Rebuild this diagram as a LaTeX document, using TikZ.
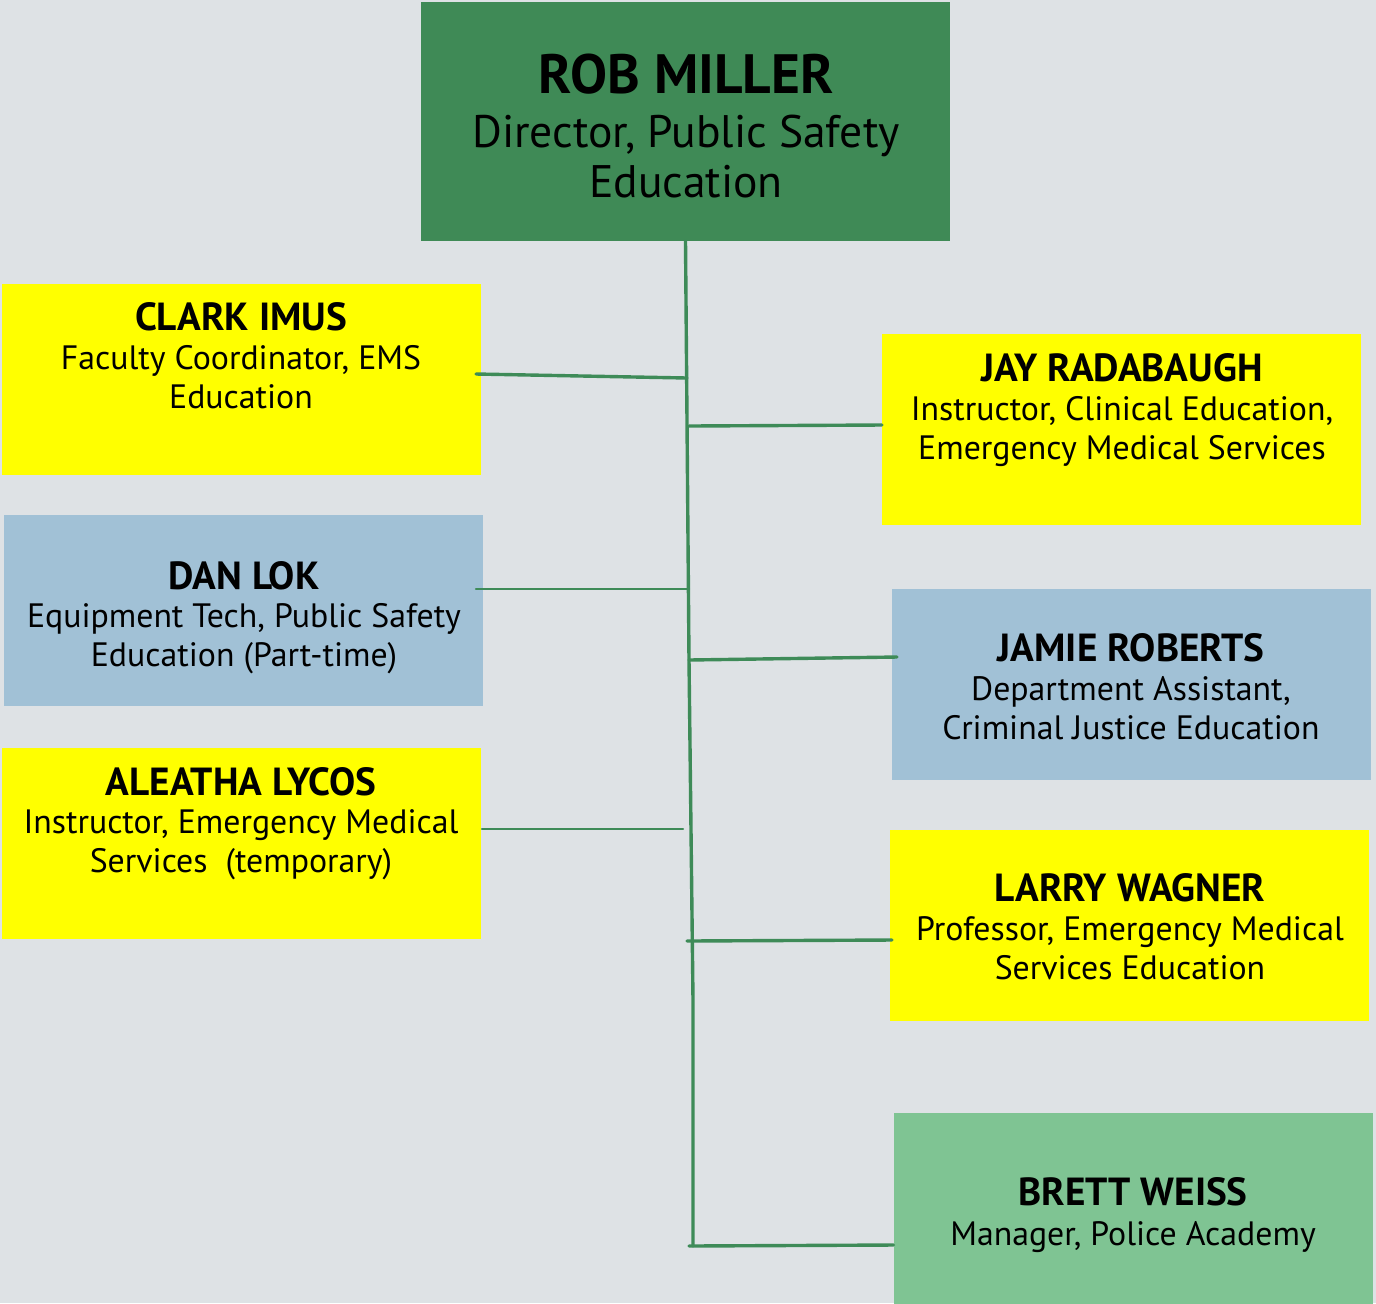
\documentclass[tikz,border=0pt]{standalone}
\usepackage{fontspec}
\setmainfont{PT Sans}
\usetikzlibrary{calc}
\definecolor{bgc}{HTML}{DEE2E5}
\definecolor{headc}{HTML}{3F8A56}
\definecolor{yelc}{HTML}{FFFF00}
\definecolor{bluec}{HTML}{A1C1D6}
\definecolor{mintc}{HTML}{7FC493}
\definecolor{linec}{HTML}{3E8B58}
\tikzset{
  card/.style={rectangle, inner sep=0pt, outer sep=0pt, draw=none,
    minimum width=239.5pt, minimum height=95.5pt},
  nametext/.style={anchor=base, inner sep=0pt, font=\bfseries\fontsize{19.6}{20}\selectfont},
  % anchored at the baseline of the last line
  roletext/.style={anchor=base, inner sep=0pt, align=center,
    font=\fontsize{16.9}{19.25}\selectfont},
  link/.style={draw=linec, line width=1.7pt, line cap=round},
  thinlink/.style={draw=linec, line width=1.1pt, line cap=round}
}
\begin{document}
\begin{tikzpicture}[x=0.5pt, y=-0.5pt]
  \fill[bgc] (0,0) rectangle (1376,1303);
  \useasboundingbox (0,0) rectangle (1376,1303);

  % boxes
  \node[card, fill=headc, minimum width=264.5pt, minimum height=119.5pt] (rob) at (685.5,121.5) {};
  \node[card, fill=yelc]  (clark)   at (241.5,379.5) {};
  \node[card, fill=bluec] (dan)     at (243.5,610.5) {};
  \node[card, fill=yelc]  (aleatha) at (241.5,843.5) {};
  \node[card, fill=yelc]  (jay)     at (1121.5,429) {};
  \node[card, fill=bluec] (jamie)   at (1131.5,684.5) {};
  \node[card, fill=yelc]  (larry)   at (1129.5,925.5) {};
  \node[card, fill=mintc] (brett)   at (1133,1208) {};

  % head text
  \node[nametext, font=\bfseries\fontsize{27.7}{28}\selectfont] (robN) at (686,93) {ROB MILLER};
  \node[roletext, font=\fontsize{22.8}{25}\selectfont] (robT) at (686,197) {Director, Public Safety\\Education};

  % card texts
  \node[nametext] (clarkN) at (241,330) {CLARK IMUS};
  \node[roletext] (clarkT) at (241,408) {Faculty Coordinator, EMS\\Education};
  \node[nametext] (danN) at (244,589) {DAN LOK};
  \node[roletext] (danT) at (244,666) {Equipment Tech, Public Safety\\Education (Part-time)};
  \node[nametext] (aleathaN) at (241,795) {ALEATHA LYCOS};
  \node[roletext] (aleathaT) at (241,872) {Instructor, Emergency Medical\\Services~~(temporary)};
  \node[nametext] (jayN) at (1122,381) {JAY RADABAUGH};
  \node[roletext] (jayT) at (1122,459) {Instructor, Clinical Education,\\Emergency Medical Services};
  \node[nametext] (jamieN) at (1131,661) {JAMIE ROBERTS};
  \node[roletext] (jamieT) at (1131,739) {Department Assistant,\\Criminal Justice Education};
  \node[nametext] (larryN) at (1130,901) {LARRY WAGNER};
  \node[roletext] (larryT) at (1130,979) {Professor, Emergency Medical\\Services Education};
  \node[nametext] (brettN) at (1133,1205) {BRETT WEISS};
  \node[roletext] (brettT) at (1133,1245) {Manager, Police Academy};

  % trunk
  \coordinate (t1) at (689,660);
  \coordinate (t2) at (693,1000);
  \coordinate (tEnd) at (693,1246);
  \draw[link] (rob.south) -- (t1) -- (t2) -- (tEnd);

  % junctions on the trunk
  \coordinate (jClark) at (687,378);
  \coordinate (jJay) at (689,426);
  \coordinate (jDan) at (689,589);
  \coordinate (jJamie) at (689,660);
  \coordinate (jAleatha) at (683,829);
  \coordinate (jLarry) at (687,941);
  \coordinate (jBrett) at (689,1246);

  % branches
  \draw[link] ([shift={(-5,-5.5)}]clark.east) -- (jClark);
  \draw[link] (jJay) -- ([shift={(0,-4)}]jay.west);
  \draw[thinlink] ([shift={(-7,-21.5)}]dan.east) -- (jDan);
  \draw[link] (jJamie) -- ([shift={(5,-27.5)}]jamie.west);
  \draw[thinlink] ([shift={(1,-14.5)}]aleatha.east) -- (jAleatha);
  \draw[link] (jLarry) -- ([shift={(2,14.5)}]larry.west);
  \draw[link] (jBrett) -- ([shift={(0,37)}]brett.west);
\end{tikzpicture}
\end{document}
